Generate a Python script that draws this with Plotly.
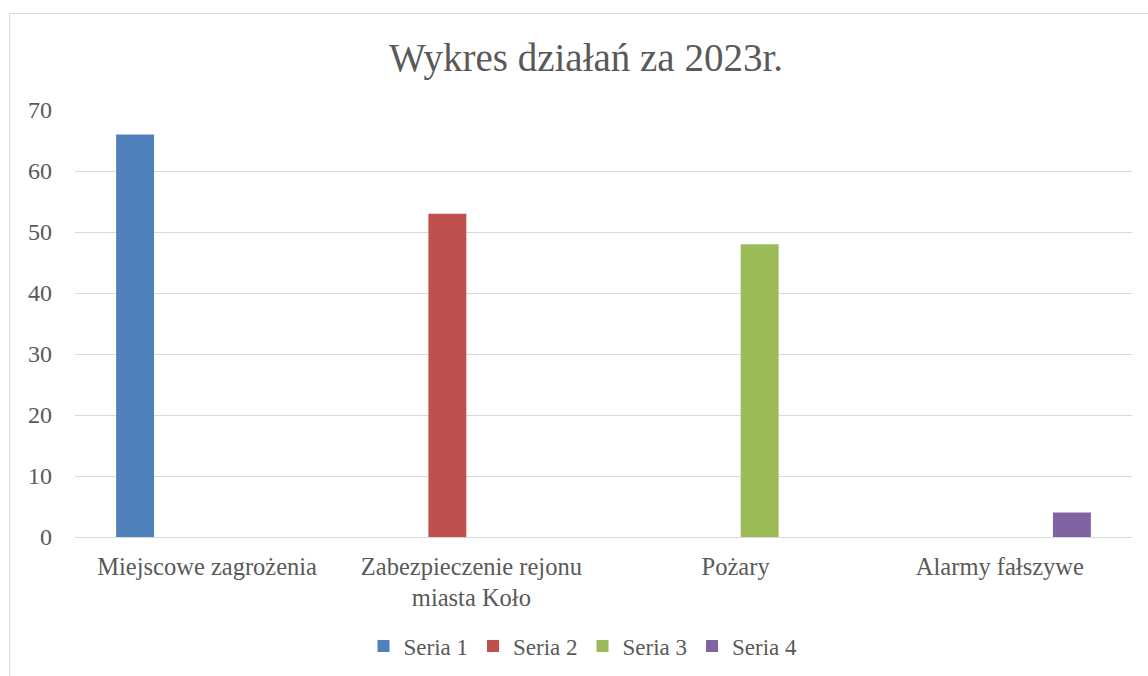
import plotly.graph_objects as go

categories = ["Miejscowe zagrożenia", "Zabezpieczenie rejonu<br>miasta Koło", "Pożary", "Alarmy fałszywe"]
series_names = ["Seria 1", "Seria 2", "Seria 3", "Seria 4"]
seria1 = [66, None, None, None]
seria2 = [None, 53, None, None]
seria3 = [None, None, 48, None]
seria4 = [None, None, None, 4]
colors = ["#4f81bd", "#c0504d", "#9bbb59", "#8064a2"]
y_ticks = [0, 10, 20, 30, 40, 50, 60, 70]

W, H = 1148, 676
L, R, T, B = 75, 16, 110, 139
FONT = "Liberation Serif"
TXT = "#595959"

fig = go.Figure()
for name, vals, col in zip(series_names, [seria1, seria2, seria3, seria4], colors):
    fig.add_trace(go.Bar(x=categories, y=vals, name=name, marker=dict(color=col, line=dict(width=0))))

pw = W - L - R
ph = H - T - B
def px_x(x):
    return (x - L) / pw
def px_y(y):
    return (H - B - y) / ph

fig.update_layout(
    width=W, height=H,
    margin=dict(l=L, r=R, t=T, b=B, autoexpand=False),
    paper_bgcolor="white", plot_bgcolor="white",
    barmode="group", bargap=0.273, bargroupgap=0.21,
    font=dict(family=FONT, color=TXT, size=24),
    title=dict(text="Wykres działań za 2023r.", x=586 / W, xanchor="center",
               y=1 - 57 / H, yanchor="middle",
               font=dict(family=FONT, size=39, color=TXT)),
    legend=dict(orientation="h", x=px_x(583), xanchor="center", y=px_y(646), yanchor="middle",
                font=dict(family=FONT, size=23, color=TXT), itemwidth=30,
                traceorder="normal"),
    showlegend=True,
    shapes=[dict(type="rect", xref="paper", yref="paper",
                 x0=px_x(9.5), x1=px_x(1160), y0=px_y(690), y1=px_y(13.5),
                 line=dict(color="#d9d9d9", width=1), fillcolor="rgba(0,0,0,0)", layer="below")],
)
fig.update_xaxes(showgrid=False, showline=False, ticks="", ticklabelstandoff=12,
                 tickfont=dict(family=FONT, size=24.5, color=TXT), fixedrange=True)
fig.update_yaxes(range=[0, 70], tickvals=y_ticks, showgrid=True, gridcolor="#d9d9d9", gridwidth=1.3,
                 zeroline=True, zerolinecolor="#d9d9d9", zerolinewidth=1.3, showline=False, ticks="",
                 ticklabelstandoff=22, tickfont=dict(family=FONT, size=24, color=TXT), fixedrange=True)

fig.write_html("out.html", config={"displayModeBar": False},
               post_script="document.body.style.margin='0px';document.body.style.overflow='hidden';")
